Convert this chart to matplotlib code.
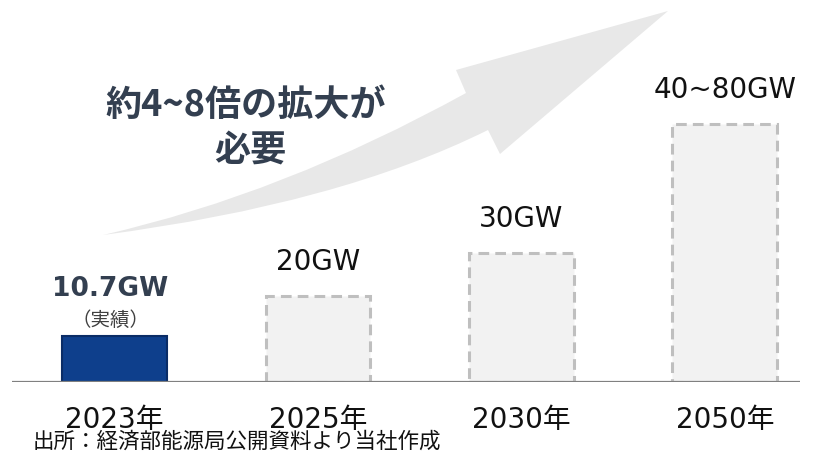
import matplotlib.pyplot as plt
from matplotlib.path import Path
from matplotlib.patches import PathPatch

# data
years = ["2023年", "2025年", "2030年", "2050年"]
capacity = [10.7, 20, 30, 60]          # 2050 drawn at the middle of 40~80
value_labels = ["10.7GW", "20GW", "30GW", "40~80GW"]
note_2023 = "（実績）"
headline = ["約4~8倍の拡大が", "必要"]
source = "出所：経済部能源局公開資料より当社作成"

W, H = 813, 455
fig = plt.figure(figsize=(W / 100, H / 100), dpi=100)
fig.set_facecolor('white')

# background layer in pixel coords for the big arrow
bg = fig.add_axes([0, 0, 1, 1])
bg.set_xlim(0, W)
bg.set_ylim(H, 0)
bg.set_axis_off()

verts = [(103, 235), (339, 204), (488, 130),
         (500, 154), (668, 11), (456, 70), (466, 93),
         (283, 194), (103, 235), (103, 235)]
codes = [Path.MOVETO, Path.CURVE3, Path.CURVE3,
         Path.LINETO, Path.LINETO, Path.LINETO, Path.LINETO,
         Path.CURVE3, Path.CURVE3, Path.CLOSEPOLY]
bg.add_patch(PathPatch(Path(verts, codes), facecolor='#e8e8e8', edgecolor='none'))

for line, (hx, hy) in zip(headline, [(246, 105), (250, 150)]):
    bg.text(hx, hy, line, ha='center', va='center', fontsize=26,
            fontweight='bold', color='#333f50', family=['Noto Sans CJK JP'])

# bar chart
ax = fig.add_axes([12 / W, (H - 382) / H, 788 / W, 382 / H])
ax.patch.set_alpha(0)
x = list(range(len(years)))
ax.set_xlim(-0.504, 3.369)
ax.set_ylim(0, 382 / 4.3)

ax.bar(x[0], capacity[0], width=0.516, color='#0e3f8c', edgecolor='#0a2c66',
       linewidth=1.5, zorder=3)
ax.bar(x[1:], capacity[1:], width=0.516, color='#f2f2f2', edgecolor='#bfbfbf',
       linewidth=2.2, linestyle=(0, (3.5, 2)), zorder=3)

ax.axhline(0, color='#808080', lw=1.6, zorder=4)

for cap, xi, lab in zip(capacity[1:], x[1:], value_labels[1:]):
    ax.annotate(lab, (xi, cap), xytext=(0, 19), textcoords='offset points',
                ha='center', va='baseline', fontsize=20, color='#111111',
                family=['DejaVu Sans'])

ax.annotate(value_labels[0], (x[0], capacity[0]), xytext=(-3, 29),
            textcoords='offset points', ha='center', va='baseline',
            fontsize=19, fontweight='bold', color='#333f50',
            family=['DejaVu Sans'])
ax.annotate(note_2023, (x[0], capacity[0]), xytext=(-3, 11),
            textcoords='offset points', ha='center', va='center',
            fontsize=14, color='#404040', family=['Noto Sans CJK JP'])

ax.set_xticks(x, years)
ax.tick_params(axis='x', length=0, pad=17, labelsize=20)
for t in ax.get_xticklabels():
    t.set_family(['DejaVu Sans', 'Noto Sans CJK JP'])
    t.set_color('#111111')
ax.set_yticks([])
for s in ax.spines.values():
    s.set_visible(False)

fig.text(33 / W, 1 - 442 / H, source, ha='left', va='center', fontsize=15.5,
         color='#111111', family=['Noto Sans CJK JP'])

fig.savefig("out.png", dpi=100)
